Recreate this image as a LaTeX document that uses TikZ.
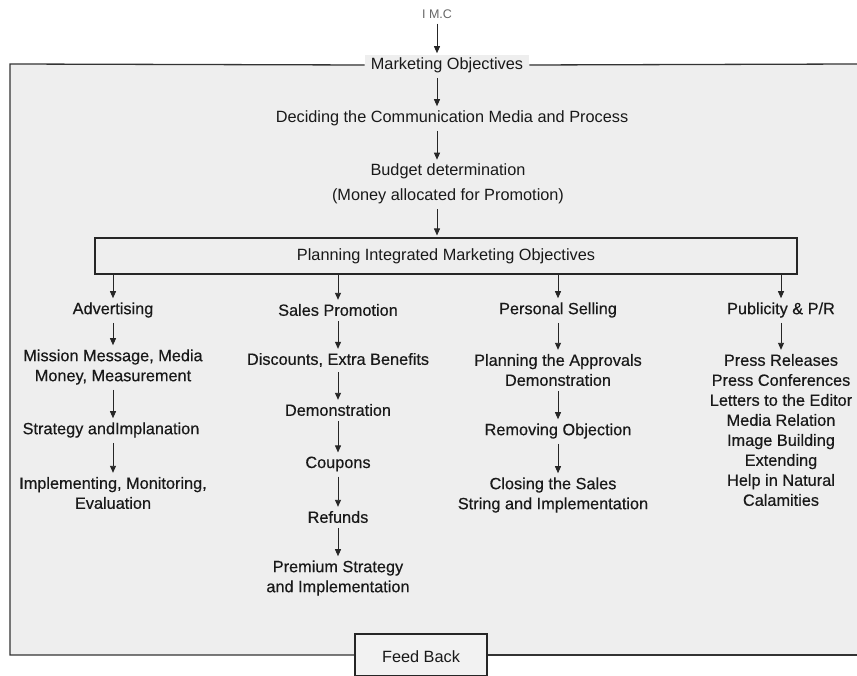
\documentclass[tikz,border=0pt]{standalone}
\usepackage{fontspec}
\setmainfont{Liberation Sans}
\newfontfamily\bodyfont[FakeBold=0.4]{Liberation Sans}
\usetikzlibrary{arrows.meta}
\begin{document}
\begin{tikzpicture}[x=1pt,y=-1pt,
  txt/.style={font=\bodyfont\fontsize{16.3}{20}\selectfont, align=center, inner sep=2pt, text=black!90},
  toptxt/.style={txt, font=\fontsize{16.3}{25}\selectfont},
  arr/.style={-{Triangle[width=6pt,length=7pt]}, line width=0.9pt, black!85, shorten <=3pt, shorten >=2pt},
  frame/.style={line width=1.3pt, black!80},
  boxed/.style={draw=black!85, line width=1.1pt}]
\useasboundingbox (0,0) rectangle (857,676);
\fill[gray!13] (10,64) rectangle (857,655);
% top chain
\node[txt, font=\fontsize{12.5}{14}\selectfont, text=black!60] (imc) at (437,14) {I M.C};
\node[toptxt, fill=gray!13, inner xsep=6pt] (mo) at (447,65) {Marketing Objectives};
\node[toptxt] (dec) at (452,118) {Deciding the Communication Media and Process};
\node[toptxt] (bud) at (448,184) {Budget determination\\(Money allocated for Promotion)};
\node[boxed, minimum width=702pt, minimum height=36pt, inner sep=0pt] (plan) at (446,256) {};
\node[toptxt] (plant) at (446,256) {Planning Integrated Marketing Objectives};
% frame
\draw[frame] (mo.west) -- (10,64) -- (10,655) -- (355,655);
\draw[frame] (mo.east) -- (857,64);
\node[boxed, minimum width=132pt, minimum height=42pt, inner sep=0pt, fill=gray!10] (fb) at (421,655) {};
\node[toptxt] (fbt) at (421,657) {Feed Back};
\draw[frame] (fb.east |- 0,655) -- (857,655);
\draw[arr] (imc.south) -- (mo.north -| imc.south);
\draw[arr] (mo.south -| imc.south) -- (dec.north -| imc.south);
\draw[arr] (dec.south -| imc.south) -- (bud.north -| imc.south);
\draw[arr] (bud.south -| imc.south) -- (plan.north -| imc.south);
% column heads
\node[txt] (adv) at (113,310) {Advertising};
\node[txt] (sp) at (338,310) {Sales Promotion};
\node[txt] (ps) at (558,310) {Personal Selling};
\node[txt] (pub) at (781,310) {Publicity \& P/R};
\foreach \n in {adv,sp,ps,pub}{\draw[arr, shorten <=0pt] (plan.south -| \n) -- (\n);}
% column 1
\node[txt] (a1) at (113,367) {Mission Message, Media\\Money, Measurement};
\node[txt] (a2) at (111,430) {Strategy andImplanation};
\node[txt] (a3) at (113,493) {Implementing, Monitoring,\\Evaluation};
\draw[arr] (adv) -- (a1.north -| adv);
\draw[arr] (a1.south -| adv) -- (a2.north -| adv);
\draw[arr] (a2.south -| adv) -- (a3.north -| adv);
% column 2
\node[txt] (s1) at (338,360) {Discounts, Extra Benefits};
\node[txt] (s2) at (338,410) {Demonstration};
\node[txt] (s3) at (338,464) {Coupons};
\node[txt] (s4) at (338,517) {Refunds};
\node[txt] (s5) at (338,578) {Premium Strategy\\and Implementation};
\draw[arr] (sp) -- (s1);
\draw[arr] (s1) -- (s2);
\draw[arr] (s2) -- (s3);
\draw[arr] (s3) -- (s4);
\draw[arr] (s4) -- (s5);
% column 3
\node[txt] (p1) at (558,370) {Planning the Approvals\\Demonstration};
\node[txt] (p2) at (558,431) {Removing Objection};
\node[txt] (p3) at (553,495) {Closing the Sales\\String and Implementation};
\draw[arr] (ps) -- (p1);
\draw[arr] (p1) -- (p2);
\draw[arr] (p2) -- (p3.north -| p2);
% column 4
\node[txt] (u1) at (781,430) {Press Releases\\Press Conferences\\Letters to the Editor\\Media Relation\\Image Building\\Extending\\Help in Natural\\Calamities};
\draw[arr] (pub) -- (u1);
\end{tikzpicture}
\end{document}
